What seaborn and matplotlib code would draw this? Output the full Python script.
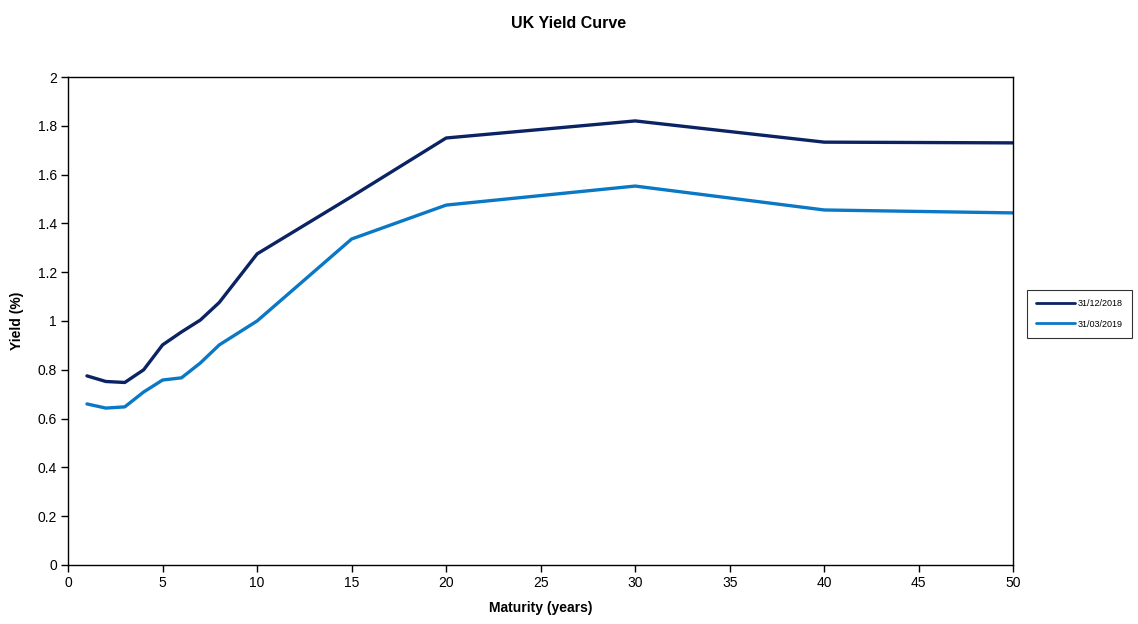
import matplotlib
matplotlib.use("Agg")
import matplotlib.pyplot as plt
import seaborn as sns
import pandas as pd

maturity = [1, 2, 3, 4, 5, 6, 7, 8, 10, 15, 20, 30, 40, 50]
yield_dec2018 = [0.775, 0.752, 0.748, 0.80, 0.902, 0.955, 1.004, 1.076, 1.275, 1.51, 1.75, 1.82, 1.733, 1.73]
yield_mar2019 = [0.66, 0.643, 0.648, 0.709, 0.758, 0.767, 0.828, 0.902, 1.0, 1.336, 1.475, 1.553, 1.455, 1.443]
series_labels = ["31/12/2018", "31/03/2019"]
colors = ["#0b2263", "#0b78c6"]

df = pd.concat([
    pd.DataFrame({"Maturity": maturity, "Yield": yield_dec2018, "Date": series_labels[0]}),
    pd.DataFrame({"Maturity": maturity, "Yield": yield_mar2019, "Date": series_labels[1]}),
])

sns.set_theme(style="white", rc={"text.color": "black", "axes.labelcolor": "black",
                                 "xtick.color": "black", "ytick.color": "black"})
plt.rcParams['font.family'] = ['Liberation Sans', 'DejaVu Sans']

fig = plt.figure(figsize=(11.38, 6.24), dpi=100)
ax = fig.add_axes([0.0598, 0.0946, 0.8306, 0.782])
sns.lineplot(data=df, x="Maturity", y="Yield", hue="Date", palette=colors,
             linewidth=2.4, ax=ax, legend=True)

ax.set_xlim(0, 50)
ax.set_ylim(0, 2)
ax.set_xticks(range(0, 51, 5))
ax.set_yticks([0, 0.2, 0.4, 0.6, 0.8, 1, 1.2, 1.4, 1.6, 1.8, 2])
ax.set_yticklabels(["0", "0.2", "0.4", "0.6", "0.8", "1", "1.2", "1.4", "1.6", "1.8", "2"])
ax.tick_params(axis='both', labelsize=10, length=5, width=1, direction='out', color='black',
               labelcolor='black', bottom=True, left=True, pad=3)
for s in ax.spines.values():
    s.set_color('black')
    s.set_linewidth(1)
ax.set_xlabel("Maturity (years)", fontsize=10, fontweight='bold', labelpad=8, color='black')
ax.set_ylabel("Yield (%)", fontsize=10, fontweight='bold', labelpad=10, color='black')
fig.suptitle("UK Yield Curve", fontsize=11.5, fontweight='bold', y=0.975, color='black')

leg = ax.legend(loc='center left', bbox_to_anchor=(1.01, 0.515), fontsize=6.5,
                frameon=True, fancybox=False, edgecolor='black', handlelength=4.3,
                borderpad=1.0, labelspacing=1.3, handletextpad=0.3)
leg.get_frame().set_linewidth(0.8)
for text in leg.get_texts():
    text.set_color('black')
for line in leg.get_lines():
    line.set_linewidth(2)

fig.savefig("out.png", dpi=100)
